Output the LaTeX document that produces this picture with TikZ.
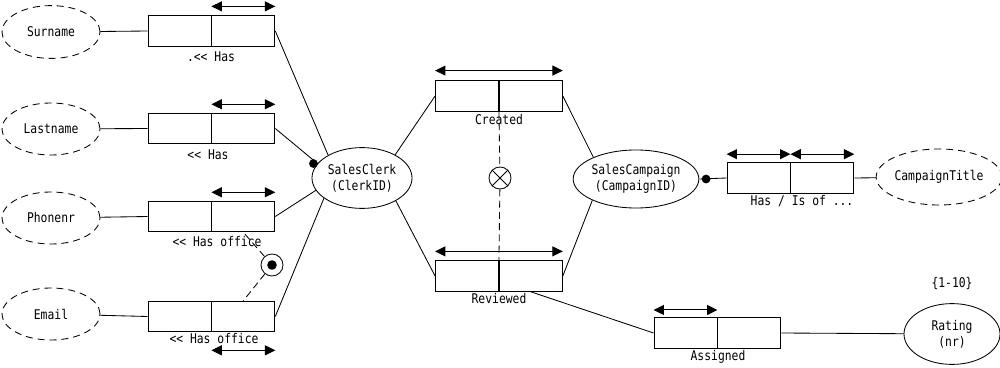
\documentclass[tikz,border=0pt]{standalone}
\usepackage{fontspec}
\setmainfont{DejaVu Sans Mono}[FakeStretch=0.85]
\usetikzlibrary{shapes.geometric,arrows.meta}

\tikzset{
  entity/.style={draw, ellipse, inner sep=0pt, align=center},
  valuetype/.style={entity, dash pattern=on 5pt off 3.5pt},
  role/.style={draw, rectangle, minimum width=1.575cm, minimum height=0.77cm, inner sep=0pt},
  ucbar/.style={{Triangle[length=2.6mm,width=2.5mm]}-{Triangle[length=2.6mm,width=2.5mm]}, line width=0.7pt},
  cdash/.style={dash pattern=on 5pt off 3pt},
  ring/.style={draw, circle, minimum size=0.55cm, inner sep=0pt},
  lbl/.style={inner sep=1pt},
}

\begin{document}
\begin{tikzpicture}[x=0.025cm, y=-0.025cm, font=\fontsize{9.5}{11.5}\selectfont, line width=0.6pt]
  \useasboundingbox (0,0) rectangle (1000,368);

  % object types
  \node[entity, minimum width=2.5cm, minimum height=1.52cm] (clerk) at (362,178) {SalesClerk\\(ClerkID)};
  \node[entity, minimum width=3.125cm, minimum height=1.45cm] (camp) at (636,179) {SalesCampaign\\(CampaignID)};
  \node[entity, minimum width=2.4cm, minimum height=1.52cm] (rating) at (952,334) {Rating\\(nr)};

  % value types
  \node[valuetype, minimum width=2.45cm, minimum height=1.32cm] (surname) at (51,32) {Surname};
  \node[valuetype, minimum width=2.45cm, minimum height=1.3cm] (lastname) at (51,129) {Lastname};
  \node[valuetype, minimum width=2.45cm, minimum height=1.3cm] (phonenr) at (51,218) {Phonenr};
  \node[valuetype, minimum width=2.45cm, minimum height=1.3cm] (email) at (51,314) {Email};
  \node[valuetype, minimum width=2.55cm, minimum height=1.4cm] (ctitle) at (939,177) {CampaignTitle};

  % fact types
  \node[role] (sn1) at (179.5,31) {};
  \node[role, anchor=west] (sn2) at (sn1.east) {};
  \node[role] (ln1) at (179.5,128.5) {};
  \node[role, anchor=west] (ln2) at (ln1.east) {};
  \node[role] (ph1) at (179.5,216.5) {};
  \node[role, anchor=west] (ph2) at (ph1.east) {};
  \node[role] (em1) at (179.5,316.5) {};
  \node[role, anchor=west] (em2) at (em1.east) {};
  \node[role] (cr1) at (467,96) {};
  \node[role, anchor=west] (cr2) at (cr1.east) {};
  \node[role] (rv1) at (467,276) {};
  \node[role, anchor=west] (rv2) at (rv1.east) {};
  \node[role] (ht1) at (758.5,178) {};
  \node[role, anchor=west] (ht2) at (ht1.east) {};
  \node[role] (as1) at (685.5,333) {};
  \node[role, anchor=west] (as2) at (as1.east) {};

  % readings
  \node[lbl] (snlbl) at (211,57) {.<{}< Has};
  \node[lbl] (lnlbl) at (208,155) {<{}< Has};
  \node[lbl] (phlbl) at (217,242) {<{}< Has office};
  \node[lbl] (emlbl) at (214,339) {<{}< Has office};
  \node[lbl] (crlbl) at (499,120) {Created};
  \node[lbl] (rvlbl) at (499,299) {Reviewed};
  \node[lbl] (htlbl) at (802,201) {Has / Is of ...};
  \node[lbl] (aslbl) at (718,357) {Assigned};
  \node[lbl] (range) at (952,284) {\{1-10\}};

  % uniqueness
  \draw[ucbar] ([yshift=0.22cm]sn2.north west) -- ([yshift=0.22cm]sn2.north east);
  \draw[ucbar] ([yshift=0.21cm]ln2.north west) -- ([yshift=0.21cm]ln2.north east);
  \draw[ucbar] ([yshift=0.21cm]ph2.north west) -- ([yshift=0.21cm]ph2.north east);
  \draw[ucbar] ([yshift=-0.45cm]em2.south west) -- ([yshift=-0.45cm]em2.south east);
  \draw[ucbar] ([yshift=0.24cm]cr1.north west) -- ([yshift=0.24cm]cr2.north east);
  \draw[ucbar] ([yshift=0.22cm]rv1.north west) -- ([yshift=0.22cm]rv2.north east);
  \draw[ucbar] ([yshift=0.2cm]ht1.north west) -- ([yshift=0.2cm]ht1.north east);
  \draw[ucbar] ([yshift=0.2cm]ht2.north west) -- ([yshift=0.2cm]ht2.north east);
  \draw[ucbar] ([yshift=0.18cm]as1.north west) -- ([yshift=0.18cm]as1.north east);

  % connectors
  \draw (surname) -- (sn1.west);
  \draw (lastname) -- (ln1.west);
  \draw (phonenr) -- (ph1.west);
  \draw (email) -- (em1.west);
  \draw (sn2.east) -- (clerk.146);
  \draw (ln2.east) -- (clerk.162);
  \draw (ph2.east) -- (clerk.195);
  \draw (em2.east) -- (clerk.208);
  \draw (clerk.35) -- (cr1.west);
  \draw (clerk.326) -- (rv1.west);
  \draw (cr2.east) -- (camp.153);
  \draw (rv2.east) -- (camp.206);
  \draw (camp.east) -- (ht1.west);
  \draw (ht2.east) -- (ctitle);
  \draw (rv2.south) -- (as1.west);
  \draw (as2.east) -- (rating);

  % mandatory roles
  \fill ([xshift=-0.1cm]clerk.162) circle (0.11cm);
  \fill ([xshift=0.17cm]camp.east) circle (0.11cm);

  % constraints
  \node[ring] (eqc) at (272,265) {};
  \fill (eqc) circle (0.12cm);
  \draw[cdash] (eqc) -- (ph2.south);
  \draw[cdash] (eqc) -- (em2.north);
  \node[ring] (excl) at (500,178) {};
  \draw (excl.45) -- (excl.225) (excl.135) -- (excl.315);
  \draw[cdash] (cr1.south east) -- (excl);
  \draw[cdash] (excl) -- (rv1.north east);
\end{tikzpicture}
\end{document}
